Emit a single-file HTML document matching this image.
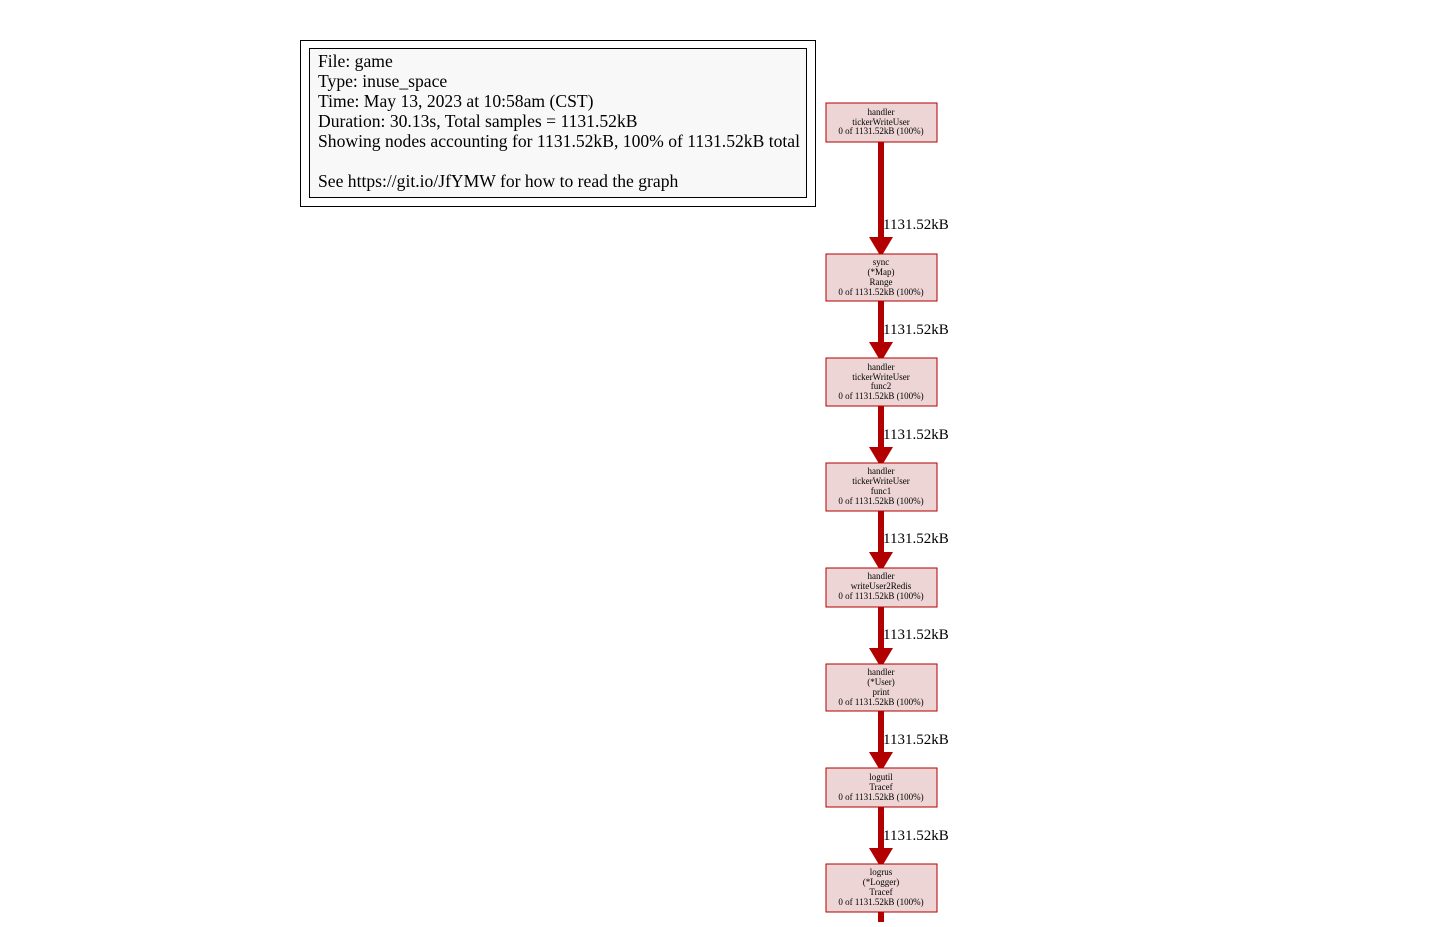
<!DOCTYPE html>
<html><head><meta charset="utf-8"><style>body{margin:0;background:#fff}</style></head><body>
<svg width="1455" height="922" xmlns="http://www.w3.org/2000/svg" font-family="Liberation Serif, serif">
<rect x="300.5" y="40.5" width="515" height="166" fill="none" stroke="#000"/>
<rect x="309.5" y="48.5" width="497" height="149" fill="#f8f8f8" stroke="#000"/>
<g font-size="17.6" fill="#000">
<text x="318" y="67">File: game</text>
<text x="318" y="87">Type: inuse_space</text>
<text x="318" y="107">Time: May 13, 2023 at 10:58am (CST)</text>
<text x="318" y="127">Duration: 30.13s, Total samples = 1131.52kB</text>
<text x="318" y="147" textLength="482">Showing nodes accounting for 1131.52kB, 100% of 1131.52kB total</text>
<text x="318" y="187">See https://git.io/JfYMW for how to read the graph</text>
</g>
<g fill="#b20000" stroke="none">
<rect x="878" y="142" width="6" height="96"/><polygon points="869,237 893,237 881,257"/>
<rect x="878" y="301" width="6" height="42"/><polygon points="869,342 893,342 881,362"/>
<rect x="878" y="406" width="6" height="42"/><polygon points="869,447 893,447 881,467"/>
<rect x="878" y="511" width="6" height="42"/><polygon points="869,552 893,552 881,572"/>
<rect x="878" y="607" width="6" height="42"/><polygon points="869,648 893,648 881,668"/>
<rect x="878" y="711" width="6" height="42"/><polygon points="869,752 893,752 881,772"/>
<rect x="878" y="807" width="6" height="42"/><polygon points="869,848 893,848 881,868"/>
<rect x="878" y="912" width="6" height="10"/>
</g>
<g font-size="15" fill="#000">
<text x="883" y="229">1131.52kB</text>
<text x="883" y="334">1131.52kB</text>
<text x="883" y="439">1131.52kB</text>
<text x="883" y="543">1131.52kB</text>
<text x="883" y="639">1131.52kB</text>
<text x="883" y="744">1131.52kB</text>
<text x="883" y="840">1131.52kB</text>
</g>
<g fill="#edd5d5" stroke="#b20000" stroke-width="1">
<rect x="826" y="103" width="111" height="39"/>
<rect x="826" y="254" width="111" height="47"/>
<rect x="826" y="358" width="111" height="48"/>
<rect x="826" y="463" width="111" height="48"/>
<rect x="826" y="568" width="111" height="39"/>
<rect x="826" y="664" width="111" height="47"/>
<rect x="826" y="768" width="111" height="39"/>
<rect x="826" y="864" width="111" height="48"/>
</g>
<g font-size="9" fill="#000" text-anchor="middle">
<text x="881" y="115">handler</text><text x="881" y="125">tickerWriteUser</text><text x="881" y="134">0 of 1131.52kB (100%)</text>
<text x="881" y="265">sync</text><text x="881" y="275">(*Map)</text><text x="881" y="285">Range</text><text x="881" y="295">0 of 1131.52kB (100%)</text>
<text x="881" y="370">handler</text><text x="881" y="380">tickerWriteUser</text><text x="881" y="389">func2</text><text x="881" y="399">0 of 1131.52kB (100%)</text>
<text x="881" y="474">handler</text><text x="881" y="484">tickerWriteUser</text><text x="881" y="494">func1</text><text x="881" y="504">0 of 1131.52kB (100%)</text>
<text x="881" y="579">handler</text><text x="881" y="589">writeUser2Redis</text><text x="881" y="599">0 of 1131.52kB (100%)</text>
<text x="881" y="675">handler</text><text x="881" y="685">(*User)</text><text x="881" y="695">print</text><text x="881" y="705">0 of 1131.52kB (100%)</text>
<text x="881" y="780">logutil</text><text x="881" y="790">Tracef</text><text x="881" y="800">0 of 1131.52kB (100%)</text>
<text x="881" y="875">logrus</text><text x="881" y="885">(*Logger)</text><text x="881" y="895">Tracef</text><text x="881" y="905">0 of 1131.52kB (100%)</text>
</g>
</svg>
</body></html>
